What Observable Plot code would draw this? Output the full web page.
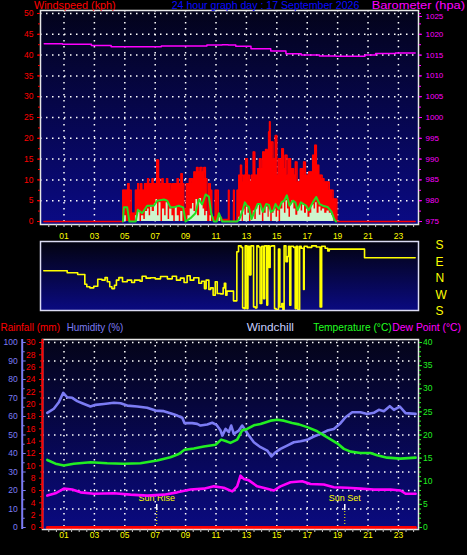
<!DOCTYPE html>
<html><head><meta charset="utf-8">
<script src="https://cdn.jsdelivr.net/npm/d3@7"></script>
<script src="https://cdn.jsdelivr.net/npm/@observablehq/plot@0.6"></script>
<style>
html,body{margin:0;padding:0;background:#000;}
#chart{position:relative;width:467px;height:555px;background:#000;overflow:hidden;font-family:"Liberation Sans",Arial,sans-serif;}
#chart svg{position:absolute;left:0;}
</style></head><body><div id="chart"></div>
<script>
// ---------------- DATA ----------------
const hourTicks = [1,3,5,7,9,11,13,15,17,19,21,23];
const kphTicks = [0,5,10,15,20,25,30,35,40,45,50];
const baroTicks = [975,980,985,990,995,1000,1005,1010,1015,1020,1025];
const rainTicks = [0,2,4,6,8,10,12,14,16,18,20,22,24,26,28,30];
const humidityTicks = [0,10,20,30,40,50,60,70,80,90,100];
const tempTicks = [0,5,10,15,20,25,30,35,40];
const compassLabels = ["S","E","N","W","S"];
const compassDegrees = [540,450,360,270,180];

const titleTexts = ["Windspeed (kph)", "24 hour graph day : 17 September 2026", "Barometer (hpa)"];
const legendTexts = ["Rainfall (mm)", "Humidity (%)", "Windchill", "Temperature (°C)", "Dew Point (°C)"];
const sunEvents = [{label: "Sun Rise", hour: 7.1}, {label: "Sun Set", hour: 19.47}];

// [hour, hPa]
const barometer = [[-0.3,1017.7],[0.9,1017.6],[1.5,1017.6],[2.8,1017.3],[4.1,1017.0],[6.0,1017.0],[7.4,1017.2],[9.0,1017.2],[10.4,1017.4],[11.4,1017.5],[11.8,1017.4],[12.3,1017.1],[13.3,1016.5],[14.6,1016.0],[15.6,1015.3],[16.6,1015.0],[17.8,1014.8],[18.9,1014.7],[20.0,1014.7],[20.8,1015.0],[21.5,1015.4],[22.8,1015.5],[24.1,1015.5]];

// [hour, kph] gusts (red)
const gust = [[-0.32,0],[4.87,7.5],[5.2,9.1],[5.28,7.5],[5.42,2.0],[5.7,7.5],[5.85,9.1],[5.92,7.5],[6.05,9.1],[6.12,7.5],[6.3,9.1],[6.5,10.3],[6.56,9.1],[6.8,10.3],[6.86,9.1],[7.1,14.8],[7.22,10.3],[7.3,9.1],[7.45,10.3],[7.52,9.1],[7.75,10.3],[7.82,9.1],[8.05,7.5],[8.15,9.1],[8.45,10.3],[8.52,9.1],[8.7,11.5],[8.78,9.1],[8.88,3.0],[9.05,9.1],[9.25,10.3],[9.45,9.1],[9.55,11.9],[9.65,10.3],[9.72,13.0],[9.82,11.9],[9.95,13.0],[10.08,11.9],[10.2,13.0],[10.3,10.3],[10.4,1.5],[10.52,9.1],[10.62,7.5],[10.72,1.0],[10.95,7.5],[11.15,1.0],[11.36,0.5],[11.82,7.5],[11.86,0],[12.15,7.5],[12.2,0],[12.39,7.5],[12.5,11.1],[12.61,13.5],[12.68,11.1],[12.77,9.5],[12.85,11.1],[12.95,15.1],[13.06,11.1],[13.2,9.5],[13.33,11.1],[13.45,16.7],[13.55,11.1],[13.75,12.7],[13.86,15.1],[13.97,12.7],[14.08,16.7],[14.19,11.1],[14.26,17.3],[14.36,12.7],[14.46,21.5],[14.52,24.0],[14.56,16.0],[14.64,19.1],[14.75,15.1],[14.9,20.7],[15.0,11.1],[15.12,15.1],[15.23,13.0],[15.33,17.5],[15.43,12.7],[15.55,15.9],[15.67,11.1],[15.78,15.1],[15.9,12.7],[16.1,11.1],[16.22,14.3],[16.33,9.5],[16.55,12.7],[16.76,14.3],[16.88,11.1],[17.1,11.9],[17.36,15.9],[17.45,11.9],[17.5,18.3],[17.6,13.5],[17.76,11.1],[17.98,10.3],[18.1,9.5],[18.45,7.5],[18.7,5.4],[18.95,0],[24.1,0]];

// [hour, kph] wind speed (pale bars)
const speed = [[4.93,1.4],[5.1,0],[5.7,1.4],[5.85,2.4],[6.0,0],[6.1,1.4],[6.25,0.5],[6.35,2.4],[6.5,3.0],[6.6,1.4],[6.7,3.5],[6.8,2.4],[6.95,4.3],[7.05,5.3],[7.15,1.4],[7.25,4.5],[7.38,0],[7.48,3.0],[7.62,1.4],[7.72,4.5],[7.85,0.5],[7.95,3.0],[8.1,1.4],[8.22,0],[8.32,3.5],[8.45,1.4],[8.58,0],[8.68,2.4],[8.82,0],[9.15,1.4],[9.3,3.0],[9.45,4.3],[9.55,2.4],[9.68,5.3],[9.78,1.4],[9.92,5.5],[10.05,4.3],[10.15,3.0],[10.25,1.4],[10.35,2.4],[10.45,0],[10.6,1.4],[10.7,0],[11.2,1.4],[11.3,0],[12.5,1.0],[12.62,2.5],[12.72,0],[12.8,3.0],[12.9,1.5],[13.0,3.5],[13.1,2.0],[13.2,0],[13.3,1.0],[13.45,2.5],[13.55,0.5],[13.65,3.0],[13.75,4.0],[13.85,1.5],[13.95,3.5],[14.05,0],[14.15,2.0],[14.3,3.5],[14.42,1.0],[14.5,3.0],[14.6,0],[14.7,2.0],[14.82,3.0],[14.95,1.0],[15.05,2.5],[15.15,0],[15.25,3.0],[15.4,4.5],[15.5,2.0],[15.6,5.0],[15.7,3.0],[15.8,1.0],[15.9,4.0],[16.0,5.0],[16.12,3.0],[16.25,1.5],[16.38,3.0],[16.5,4.0],[16.6,2.5],[16.7,4.0],[16.82,2.0],[16.95,3.0],[17.05,1.0],[17.18,2.0],[17.3,4.0],[17.45,3.0],[17.55,4.5],[17.65,2.0],[17.78,3.5],[17.9,2.5],[18.0,3.0],[18.15,2.0],[18.3,2.5],[18.45,2.0],[18.6,1.5],[18.75,0]];

// [hour, kph] average wind (green line)
const avgSpeed = [[4.88,0],[4.94,3.4],[5.16,3.4],[5.3,0],[5.72,0],[5.86,2.8],[6.14,2.0],[6.47,3.8],[6.91,3.8],[7.13,5.0],[7.57,5.3],[7.79,5.0],[8.0,3.4],[8.22,3.4],[8.55,3.8],[8.84,3.4],[9.0,0],[9.32,0.8],[9.65,2.0],[9.87,5.3],[10.09,4.1],[10.31,6.5],[10.53,6.0],[10.68,2.0],[10.86,0],[11.05,0],[11.19,2.0],[11.41,0],[12.39,0],[12.54,0.6],[12.72,2.3],[12.9,4.6],[13.03,3.8],[13.16,3.5],[13.34,0.6],[13.56,2.7],[13.73,4.2],[13.91,4.2],[14.08,2.3],[14.3,4.2],[14.48,4.0],[14.61,2.3],[14.78,2.7],[14.91,4.2],[15.13,3.0],[15.31,4.6],[15.48,5.0],[15.66,6.3],[15.83,3.8],[16.05,5.0],[16.22,4.6],[16.36,2.7],[16.58,4.6],[16.76,4.2],[16.93,3.8],[17.1,2.7],[17.37,4.6],[17.59,5.9],[17.81,4.2],[18.03,3.8],[18.34,3.5],[18.6,2.3],[18.77,0.6],[18.9,0]];

// [hour, compass degrees]
const direction = [[-0.33,42],[1.21,31],[1.9,22],[2.37,329],[2.5,315],[2.7,309],[2.96,318],[3.22,356],[3.5,351],[3.7,5],[3.85,342],[4.01,315],[4.15,305],[4.32,323],[4.45,351],[4.61,5],[4.85,342],[5.16,351],[5.45,338],[5.64,351],[6.0,345],[6.14,12],[6.4,2],[6.69,4],[7.0,358],[7.35,11],[7.8,358],[8.12,12],[8.4,351],[8.66,2],[8.9,338],[9.1,15],[9.3,351],[9.54,4],[9.87,334],[10.05,345],[10.24,305],[10.35,351],[10.53,300],[10.65,309],[10.81,269],[10.95,342],[11.08,278],[11.3,276],[11.47,309],[11.55,334],[11.64,269],[11.72,291],[12.15,238],[12.37,146],[12.48,178],[12.65,170],[12.75,200],[12.85,196],[12.92,178],[13.03,196],[13.1,175],[13.2,20],[13.3,178],[13.47,205],[13.58,200],[13.69,178],[13.8,172],[13.9,224],[14.01,175],[14.13,250],[14.2,178],[14.34,215],[14.4,178],[14.5,60],[14.56,176],[14.67,178],[14.85,196],[14.95,191],[15.11,160],[15.2,205],[15.33,224],[15.4,191],[15.48,178],[15.6,91],[15.7,120],[15.77,176],[15.85,214],[15.92,176],[16.1,170],[16.21,196],[16.28,176],[16.38,191],[16.5,176],[16.6,165],[16.76,300],[16.8,176],[17.0,170],[17.3,178],[17.6,172],[17.85,205],[17.95,176],[18.18,165],[18.35,150],[18.45,160],[20.77,113],[24.1,113]];

// [hour, %]
const humidity = [[-0.1,62.0],[0.33,64.2],[0.66,67.7],[0.95,72.8],[1.21,70.4],[1.54,70.1],[1.87,68.3],[2.2,67.2],[2.74,65.4],[3.07,66.3],[3.62,66.8],[4.28,67.4],[4.72,67.2],[5.16,65.9],[5.82,65.4],[6.47,64.7],[7.02,63.2],[7.57,62.9],[8.0,61.8],[8.45,60.5],[8.78,59.3],[8.93,56.4],[9.43,56.4],[9.76,56.0],[9.98,55.1],[10.42,55.7],[10.75,56.6],[11.03,55.5],[11.3,52.4],[11.41,49.7],[11.63,53.3],[11.84,51.5],[12.0,55.1],[12.17,50.6],[12.5,52.4],[12.72,55.1],[12.94,52.4],[13.16,49.7],[13.49,46.1],[13.93,43.4],[14.37,41.6],[14.65,38.4],[14.92,40.7],[15.24,42.5],[15.68,44.3],[16.12,46.1],[16.56,46.6],[17.0,47.4],[17.43,49.2],[17.88,50.6],[18.32,52.4],[18.75,53.3],[19.19,56.4],[19.52,59.6],[19.96,62.3],[20.5,62.3],[20.95,61.4],[21.38,62.0],[21.71,63.6],[22.04,62.9],[22.43,65.6],[22.7,63.6],[23.09,65.4],[23.47,61.8],[24.13,61.4]];

// [hour, °C]
const temperature = [[-0.1,14.6],[0.44,13.8],[0.99,13.4],[1.64,13.8],[2.74,14.1],[3.84,13.9],[4.93,13.8],[6.03,13.9],[7.13,14.5],[8.0,15.2],[8.55,15.9],[8.93,16.8],[9.54,17.1],[10.2,17.5],[10.97,17.9],[11.34,19.0],[11.63,18.7],[11.95,18.3],[12.39,19.0],[12.72,21.0],[13.05,21.3],[13.49,22.1],[13.93,22.4],[14.59,23.1],[15.03,23.3],[15.46,23.1],[16.01,22.6],[16.45,22.3],[17.0,21.7],[17.66,20.8],[18.32,19.5],[18.97,18.2],[19.41,17.0],[19.85,16.4],[20.5,16.1],[21.16,16.1],[21.6,15.6],[22.26,15.1],[23.14,14.9],[24.13,15.1]];

// [hour, °C]
const dewPoint = [[-0.1,6.9],[0.44,7.4],[0.99,8.4],[1.54,8.2],[2.09,7.6],[2.96,7.3],[4.28,7.4],[5.38,7.1],[6.47,6.9],[7.57,7.1],[8.45,7.6],[9.32,8.2],[10.2,8.4],[10.86,8.9],[11.51,8.6],[12.07,7.8],[12.39,8.9],[12.61,11.2],[12.83,10.5],[13.16,10.2],[13.71,8.9],[14.37,8.4],[14.8,8.0],[15.24,8.9],[15.9,9.8],[16.67,10.0],[17.22,9.4],[18.09,9.3],[18.75,8.7],[19.63,8.6],[20.5,8.4],[21.38,8.2],[22.48,8.2],[23.14,8.0],[23.47,7.3],[24.13,7.3]];

// [hour, mm]
const rainfall = [[-0.1,0],[24.13,0]];

// ---------------- LAYOUT ----------------
const RED = "#ff0000", MAG = "#ff00ff", YEL = "#ffff00", GRN = "#22ee22", HUM = "#7c7cf4";
const pad2 = d => String(d).padStart(2, "0");
const halfHours = d3.range(0, 24.01, 0.5);
const xDomTop = [-0.546, 24.32];
const xDomBot = [-0.414, 24.32];
const baseStyle = {background: "transparent", color: "white", fontFamily: "'Liberation Sans', Arial, sans-serif", fontSize: "8.5px", overflow: "visible"};
const dotted = {stroke: "white", strokeDasharray: "1.5,4.5", strokeWidth: 1.5};
const blank = () => "";
const baroTop = baroTicks[baroTicks.length - 1];

function bg(id, c1, c2) {
  return (index, scales, values, dim) => {
    const g = d3.create("svg:g");
    const grad = g.append("defs").append("linearGradient").attr("id", id)
      .attr("x1", 0).attr("y1", 0).attr("x2", 0).attr("y2", 1);
    grad.append("stop").attr("offset", "0%").attr("stop-color", c1);
    grad.append("stop").attr("offset", "100%").attr("stop-color", c2);
    g.append("rect").attr("x", dim.marginLeft).attr("y", dim.marginTop)
      .attr("width", dim.width - dim.marginLeft - dim.marginRight)
      .attr("height", dim.height - dim.marginTop - dim.marginBottom)
      .attr("fill", `url(#${id})`);
    return g.node();
  };
}

const chart = document.getElementById("chart");
function place(svg, y0) { svg.style.top = y0 + "px"; svg.style.left = "0px"; chart.appendChild(svg); }

// ---- top panel: wind + barometer ----
const windPlot = Plot.plot({
  width: 467, height: 244,
  marginLeft: 40, marginRight: 49, marginTop: 10, marginBottom: 20,
  x: {domain: xDomTop, axis: null, label: null},
  y: {domain: [-0.72, 50.72], axis: null, label: null},
  style: baseStyle,
  marks: [
    bg("gTop", "#03031a", "#0a0a84"),
    Plot.ruleY(kphTicks.slice(1), dotted),
    Plot.ruleX(hourTicks, dotted),
    Plot.areaY(gust, {x: d => d[0], y: d => d[1], curve: "step-after", fill: RED}),
    Plot.lineY(gust, {x: d => d[0], y: d => d[1], curve: "step-after", stroke: RED, strokeWidth: 1.5}),
    Plot.areaY(speed, {x: d => d[0], y: d => d[1], curve: "step-after", fill: "#cdf5cd"}),
    Plot.lineY(avgSpeed, {x: d => d[0], y: d => d[1], stroke: "#22dd22", strokeWidth: 2}),
    Plot.lineY(barometer, {x: d => d[0], y: d => d[1] - 975, curve: "step-after", stroke: MAG, strokeWidth: 1.5}),
    Plot.frame({stroke: "#e6e6e6", strokeWidth: 1.5}),
    Plot.axisY({anchor: "left", label: null, ticks: kphTicks, tickFormat: d => String(d), tickSize: 3, tickPadding: 4, stroke: RED, fill: RED}),
    Plot.axisY({anchor: "left", label: null, ticks: d3.range(0, 50.01, 2.5), tickFormat: blank, tickSize: 2, stroke: RED}),
    Plot.axisY({anchor: "right", label: null, ticks: baroTicks.filter(b => b !== baroTop).map(b => b - 975), tickFormat: d => String(d + 975), tickSize: 3, tickPadding: 4, stroke: MAG, fill: MAG, fontSize: 8}),
    Plot.axisY({anchor: "right", label: null, ticks: [baroTop - 975], tickFormat: d => String(d + 975), tickSize: 3, tickPadding: 4, dy: 3, stroke: MAG, fill: MAG, fontSize: 8}),
    Plot.axisY({anchor: "right", label: null, ticks: d3.range(0, 50.01, 2.5), tickFormat: blank, tickSize: 2, stroke: MAG}),
    Plot.axisX({anchor: "bottom", label: null, ticks: halfHours, tickFormat: blank, tickSize: 3, stroke: "#c8c8c8"}),
    Plot.axisX({anchor: "bottom", label: null, ticks: hourTicks, tickFormat: pad2, tickSize: 0, tickPadding: 8, fill: YEL})
  ]
});
place(windPlot, 0);

// ---- middle panel: wind direction ----
const dirPlot = Plot.plot({
  width: 467, height: 82,
  marginLeft: 40, marginRight: 49, marginTop: 3, marginBottom: 10,
  x: {domain: xDomTop, axis: null, label: null},
  y: {domain: [185.5, 561.8], axis: null, label: null},
  style: baseStyle,
  marks: [
    bg("gMid", "#03030f", "#0a0a80"),
    Plot.line(direction, {x: d => d[0], y: d => d[1] < 180 ? d[1] + 360 : d[1], curve: "step-after", stroke: YEL, strokeWidth: 1.6}),
    Plot.frame({stroke: "#dcdcf4", strokeWidth: 1.5}),
    Plot.text(compassLabels, {frameAnchor: "right", y: (d, i) => compassDegrees[i], text: d => d, dx: 17, textAnchor: "start", fill: YEL, fontSize: 12})
  ]
});
place(dirPlot, 238);

// ---- bottom panel: humidity / temperature / dew point / rain ----
const climatePlot = Plot.plot({
  width: 467, height: 225,
  marginLeft: 42, marginRight: 49, marginTop: 9, marginBottom: 26,
  x: {domain: xDomBot, axis: null, label: null},
  y: {domain: [-1.08, 101.62], axis: null, label: null},
  style: baseStyle,
  marks: [
    bg("gBot", "#040418", "#0a0a80"),
    Plot.ruleY(humidityTicks.slice(1), dotted),
    Plot.ruleX(hourTicks, dotted),
    Plot.ruleX(sunEvents, {x: "hour", y1: 0, y2: 9.2, stroke: YEL, strokeDasharray: "1,2", strokeWidth: 1}),
    Plot.ruleX(sunEvents, {x: "hour", y1: 9.2, y2: 12.4, stroke: "white", strokeWidth: 1.5}),
    Plot.text(sunEvents, {x: "hour", y: 15.9, text: "label", fill: YEL, fontSize: 9}),
    Plot.lineY(humidity, {x: d => d[0], y: d => d[1], stroke: HUM, strokeWidth: 2.6}),
    Plot.lineY(temperature, {x: d => d[0], y: d => d[1] * 2.5, stroke: GRN, strokeWidth: 2.6}),
    Plot.lineY(dewPoint, {x: d => d[0], y: d => d[1] * 2.5, stroke: MAG, strokeWidth: 2.6}),
    Plot.lineY(rainfall, {x: d => d[0], y: d => d[1] * 100 / 30, stroke: RED, strokeWidth: 3}),
    Plot.frame({stroke: "#e6e6e6", strokeWidth: 1.5}),
    Plot.ruleX([xDomBot[0]], {stroke: RED, strokeWidth: 2}),
    Plot.ruleX([xDomBot[0]], {dx: -20.3, stroke: HUM, strokeWidth: 2}),
    Plot.axisY({anchor: "left", label: null, ticks: humidityTicks, tickFormat: d => String(d), tickSize: 0, tickPadding: 24.7, fill: HUM}),
    Plot.axisY({anchor: "left", label: null, ticks: humidityTicks, tickFormat: blank, tickSize: 3, dx: -16.3, stroke: HUM}),
    Plot.axisY({anchor: "left", label: null, ticks: d3.range(5, 100, 10), tickFormat: blank, tickSize: 2, dx: -17.3, stroke: HUM}),
    Plot.axisY({anchor: "left", label: null, ticks: rainTicks.map(r => r * 100 / 30), tickFormat: d => String(Math.round(d * 0.3)), tickSize: 3, tickPadding: 4, stroke: RED, fill: RED}),
    Plot.axisY({anchor: "left", label: null, ticks: d3.range(1, 30, 2).map(r => r * 100 / 30), tickFormat: blank, tickSize: 2, stroke: RED}),
    Plot.axisY({anchor: "right", label: null, ticks: tempTicks.map(t => t * 2.5), tickFormat: d => String(Math.round(d / 2.5)), tickSize: 3, tickPadding: 1.5, stroke: GRN, fill: GRN}),
    Plot.axisY({anchor: "right", label: null, ticks: d3.range(0, 40.01, 1).map(t => t * 2.5), tickFormat: blank, tickSize: 2, stroke: GRN}),
    Plot.axisX({anchor: "bottom", label: null, ticks: halfHours, tickFormat: blank, tickSize: 3, stroke: "#c8c8c8"}),
    Plot.axisX({anchor: "bottom", label: null, ticks: hourTicks, tickFormat: pad2, tickSize: 0, tickPadding: 2.5, fill: YEL})
  ]
});
place(climatePlot, 330);

// ---- titles and legend (real text) ----
const overlay = d3.select(chart).append("svg")
  .attr("width", 467).attr("height", 555)
  .style("top", "0px").style("left", "0px").style("pointer-events", "none")
  .style("font-family", "'Liberation Sans', Arial, sans-serif");
const titleLayout = [
  {x: 34, y: 9.2, w: 81.7, fill: RED},
  {x: 171.7, y: 9.2, w: 187.6, fill: "#0a0aff"},
  {x: 371.7, y: 9.2, w: 93.3, fill: MAG}
];
const legendLayout = [
  {x: 0.5, y: 330.5, w: 59.5, fill: RED},
  {x: 66.7, y: 330.5, w: 56.6, fill: HUM},
  {x: 246.7, y: 330.5, w: 47.3, fill: "#c8d0ff"},
  {x: 313.3, y: 330.5, w: 78.4, fill: "#20ff20"},
  {x: 392.3, y: 330.5, w: 68.7, fill: MAG}
];
function addTexts(texts, layout, size) {
  texts.forEach((t, i) => {
    const L = layout[i];
    overlay.append("text").attr("x", L.x).attr("y", L.y).attr("fill", L.fill)
      .attr("font-size", size).attr("textLength", L.w).attr("lengthAdjust", "spacingAndGlyphs")
      .text(t);
  });
}
addTexts(titleTexts, titleLayout, 10);
addTexts(legendTexts, legendLayout, 10.5);
</script></body></html>
